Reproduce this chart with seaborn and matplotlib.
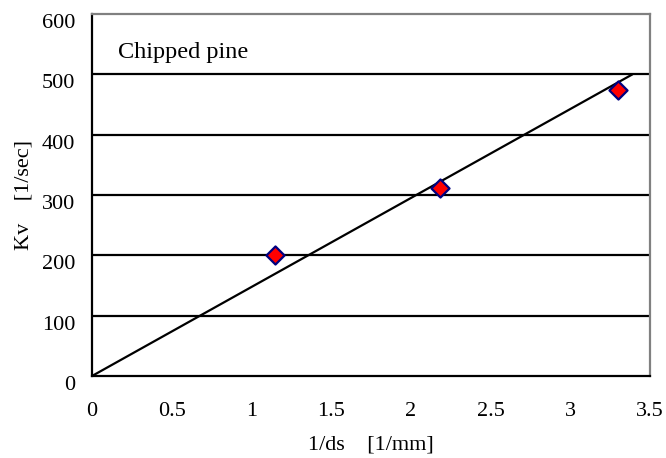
import matplotlib
matplotlib.use("Agg")
import matplotlib.pyplot as plt
import seaborn as sns
import pandas as pd

inv_ds = [1.15, 2.18, 3.30]
kv = [200, 311, 474]
fit_x = [0.0, 3.39]
fit_y = [0.0, 500.0]
x_ticks = [0, 0.5, 1, 1.5, 2, 2.5, 3, 3.5]
x_tick_labels = ["0", "0.5", "1", "1.5", "2", "2.5", "3", "3.5"]
y_ticks = [0, 100, 200, 300, 400, 500, 600]

sns.set_style("white")
plt.rcParams['font.family'] = ['Liberation Serif', 'DejaVu Serif']
plt.rcParams['text.color'] = 'black'
plt.rcParams['axes.labelcolor'] = 'black'
plt.rcParams['xtick.color'] = 'black'
plt.rcParams['ytick.color'] = 'black'

fig = plt.figure(figsize=(6.66, 4.58), dpi=100)
ax = fig.add_axes([92/666, 1-376/458, (650-92)/666, (376-14)/458])

for y in y_ticks[1:-1]:
    ax.axhline(y, color='black', lw=1.6, zorder=1)

sns.lineplot(x=fit_x, y=fit_y, ax=ax, color='black', lw=1.6, zorder=2)
df = pd.DataFrame({"x": inv_ds, "y": kv})
sns.scatterplot(data=df, x="x", y="y", ax=ax, marker='D', s=85, color='red',
                edgecolor='navy', linewidth=1.6, zorder=3)

ax.set_xlim(0, 3.5)
ax.set_ylim(0, 600)
ax.set_xticks(x_ticks)
ax.set_xticklabels(x_tick_labels)
ax.set_yticks(y_ticks)
ax.tick_params(axis='x', direction='in', length=5, width=1.2, labelsize=16, pad=18.5)
ax.tick_params(axis='y', length=0, labelsize=16, pad=12)
for lbl in ax.get_yticklabels():
    lbl.set_va('top')

for s in ['left', 'bottom']:
    ax.spines[s].set_color('black')
    ax.spines[s].set_linewidth(1.6)
for s in ['top', 'right']:
    ax.spines[s].set_color('#808080')
    ax.spines[s].set_linewidth(1.6)

ax.set_xlabel("1/ds    [1/mm]", fontsize=16, labelpad=11)
ax.set_ylabel("Kv    [1/sec]", fontsize=16, labelpad=6)
ax.text(0.16, 536, "Chipped pine", fontsize=17.5, ha='left', va='center')

fig.savefig("out.png", dpi=100)
